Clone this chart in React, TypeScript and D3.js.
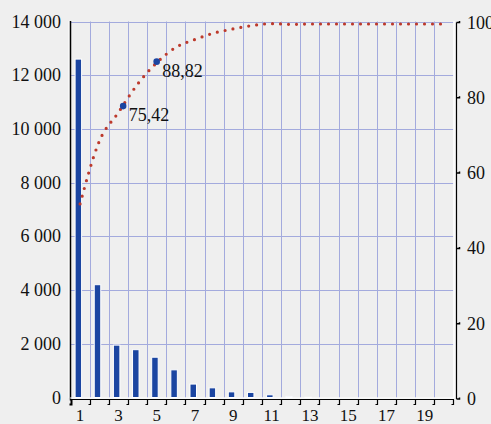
import React, { useEffect, useRef } from "react";
import * as d3 from "d3";

const categories = d3.range(1, 21);
const counts = [12600, 4200, 1950, 1780, 1500, 1030, 500, 360, 210, 190, 100, 40, 8, 0, 0, 0, 0, 0, 0, 0];
const cumPercent = [51.8, 68.4, 76.1, 83.6, 89.3, 93.4, 95.5, 97.2, 98.3, 99.2, 99.7, 99.5, 99.6, 99.6, 99.6, 99.6, 99.6, 99.6, 99.6, 99.6];
const markerPos = [3.25, 5];
const markerValues = [77.8, 89.6];
const markerLabels = ["75,42", "88,82"];
const leftTicks = [0, 2000, 4000, 6000, 8000, 10000, 12000, 14000];
const rightTicks = [0, 20, 40, 60, 80, 100];

const W = 491;
const H = 424;
const font = "'Liberation Serif', 'Times New Roman', serif";

const App = () => {
    const ref = useRef<SVGSVGElement>(null);

    useEffect(() => {
        if (!ref.current) return;
        const svg = d3.select(ref.current);
        svg.selectAll("*").remove();

        const x = d3.scaleBand<number>().domain(categories).range([70.5, 453.5]).padding(0);
        const bw = x.bandwidth();
        const xc = (c: number) => (x(c) as number) + bw / 2;
        const xl = d3.scaleLinear().domain([1, 20]).range([xc(1), xc(20)]);
        const yL = d3.scaleLinear().domain([0, 14000]).range([397.5, 21.5]);
        const yR = d3.scaleLinear().domain([0, 100]).range([399, 22.5]);

        // background
        svg.append("rect").attr("width", W).attr("height", H).attr("fill", "#efefef");

        const grid = "#a3aadd";
        // horizontal grid
        svg.append("g").selectAll("line")
            .data(leftTicks.filter(d => d > 0))
            .join("line")
            .attr("x1", 70.5).attr("x2", 453.5)
            .attr("y1", d => Math.round(yL(d)) + 0.5).attr("y2", d => Math.round(yL(d)) + 0.5)
            .attr("stroke", grid).attr("stroke-width", 1);
        // vertical grid
        svg.append("g").selectAll("line")
            .data(categories.slice(1))
            .join("line")
            .attr("x1", d => Math.round(x(d) as number) + 0.5).attr("x2", d => Math.round(x(d) as number) + 0.5)
            .attr("y1", yL(14000)).attr("y2", yL(0))
            .attr("stroke", grid).attr("stroke-width", 1);

        // white edges of plot
        svg.append("line").attr("x1", 69).attr("x2", 69).attr("y1", 21).attr("y2", 398)
            .attr("stroke", "#fff").attr("stroke-width", 1);
        svg.append("line").attr("x1", 454).attr("x2", 454).attr("y1", 21).attr("y2", 398)
            .attr("stroke", "#fff").attr("stroke-width", 1.5);

        // bars
        svg.append("g").selectAll("rect")
            .data(categories.map((c, i) => ({ c, v: counts[i] })).filter(d => d.v > 0))
            .join("rect")
            .attr("x", d => (x(d.c) as number) + bw * 0.24)
            .attr("width", 6.5)
            .attr("y", d => yL(d.v))
            .attr("height", d => yL(0) - yL(d.v))
            .attr("fill", "#1b45a1")
            .attr("stroke", "#fff")
            .attr("stroke-width", 1);

        // cumulative dotted line
        const line = d3.line<number>()
            .x((d, i) => xc(categories[i]))
            .y(d => yR(d))
            .curve(d3.curveMonotoneX);
        svg.append("path")
            .attr("d", line(cumPercent))
            .attr("fill", "none")
            .attr("stroke", "#bd3a2c")
            .attr("stroke-width", 3.2)
            .attr("stroke-linecap", "round")
            .attr("stroke-dasharray", "0 8");

        // markers
        markerPos.forEach((p, i) => {
            const cx = xl(p), cy = yR(markerValues[i]);
            svg.append("circle").attr("cx", cx).attr("cy", cy).attr("r", 3.3).attr("fill", "#1b45a1");
            svg.append("text").attr("x", cx + 5.5).attr("y", cy + 15)
                .attr("font-family", font).attr("font-size", 18).attr("fill", "#111")
                .text(markerLabels[i]);
        });

        // left axis
        svg.append("line").attr("x1", 70.5).attr("x2", 70.5).attr("y1", 21).attr("y2", 400.5)
            .attr("stroke", "#000").attr("stroke-width", 1.5);
        svg.append("g").selectAll("text")
            .data(leftTicks)
            .join("text")
            .attr("x", 61).attr("y", d => yL(d) + 6)
            .attr("text-anchor", "end")
            .attr("font-family", font).attr("font-size", 18).attr("fill", "#111")
            .text(d => d3.format(",")(d).replace(/,/g, " "));

        // bottom axis
        svg.append("line").attr("x1", 70).attr("x2", 454).attr("y1", 399.5).attr("y2", 399.5)
            .attr("stroke", "#000").attr("stroke-width", 1.2);
        svg.append("line").attr("x1", 70).attr("x2", 454).attr("y1", 398).attr("y2", 398)
            .attr("stroke", "#fff").attr("stroke-width", 1);
        const bt = svg.append("g");
        categories.concat([21]).forEach(c => {
            const xx = c === 21 ? 453.5 : Math.round(x(c) as number) + 0.5;
            bt.append("path")
                .attr("d", `M${xx},399.5V404.5H${xx - 2}`)
                .attr("fill", "none").attr("stroke", "#000").attr("stroke-width", c === 1 ? 2 : 1.2);
        });
        svg.append("g").selectAll("text")
            .data(categories.filter(c => c % 2 === 1))
            .join("text")
            .attr("x", d => xc(d)).attr("y", 421)
            .attr("text-anchor", "middle")
            .attr("font-family", font).attr("font-size", 17).attr("fill", "#111")
            .text(d => d);

        // right axis
        svg.append("line").attr("x1", 456.5).attr("x2", 456.5).attr("y1", yR(100)).attr("y2", yR(0))
            .attr("stroke", "#000").attr("stroke-width", 1.2);
        const rt = svg.append("g");
        rightTicks.forEach(t => {
            const yy = yR(t);
            rt.append("path").attr("d", `M456.5,${yy}H459.5V${yy - 1.5}`)
                .attr("fill", "none").attr("stroke", "#000").attr("stroke-width", 1.5);
        });
        svg.append("g").selectAll("text")
            .data(rightTicks)
            .join("text")
            .attr("x", 467).attr("y", d => yR(d) + 6)
            .attr("text-anchor", "start")
            .attr("font-family", font).attr("font-size", 18).attr("fill", "#111")
            .text(d => d);
    }, []);

    return (
        <svg ref={ref} width={W} height={H} style={{ position: "absolute", left: 0, top: 0 }}></svg>
    );
};

export default App;
